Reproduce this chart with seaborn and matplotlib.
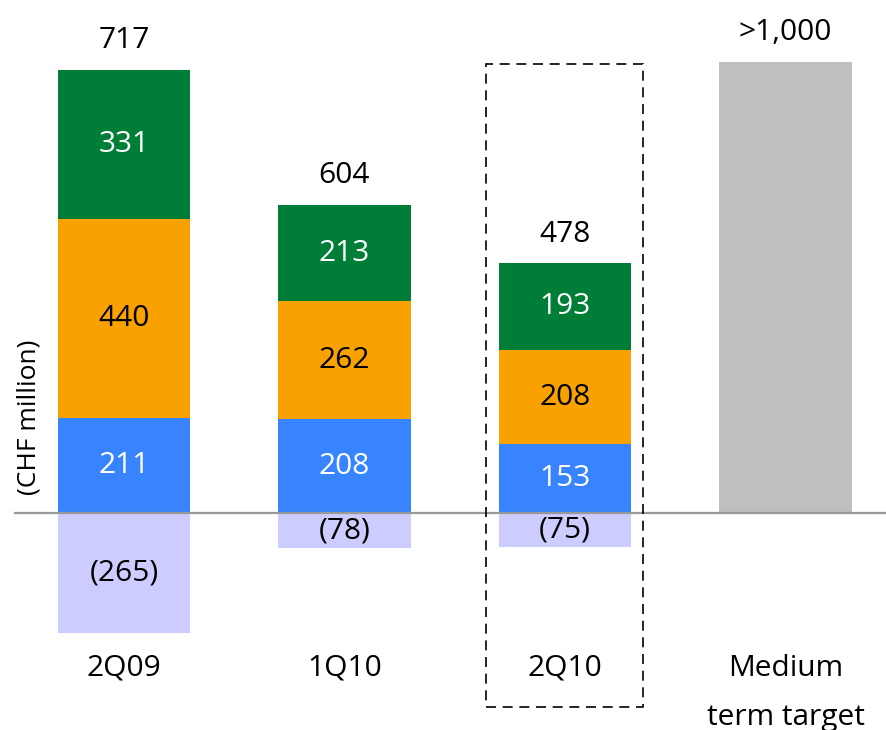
import matplotlib
matplotlib.use('Agg')
import matplotlib.pyplot as plt
from matplotlib.patches import Rectangle
import seaborn as sns
import numpy as np

# ---- data (CHF million) ----
periods = ['2Q09', '1Q10', '2Q10', 'Medium\nterm target']
blue_vals = [211, 208, 153, 0]
orange_vals = [440, 262, 208, 0]
green_vals = [331, 213, 193, 0]
neg_vals = [-265, -78, -75, 0]
target_vals = [0, 0, 0, 1000]
total_labels = ['717', '604', '478', '>1,000']

plt.rcParams['font.family'] = ['Open Sans', 'DejaVu Sans']

c_blue = '#3884FF'
c_orange = '#F9A100'
c_green = '#007D36'
c_neg = '#CCCCFF'
c_target = '#BFBFBF'

fig = plt.figure(figsize=(8.86, 7.30), dpi=100)
ax = fig.add_axes([0, 0, 1, 1])

blue = np.array(blue_vals)
orange = np.array(orange_vals)
green = np.array(green_vals)
neg = np.array(neg_vals)
target = np.array(target_vals)

layers = [
    (blue, np.zeros(4), c_blue, 'white'),
    (orange, blue, c_orange, 'black'),
    (green, blue + orange, c_green, 'white'),
    (neg, np.zeros(4), c_neg, 'black'),
    (target, np.zeros(4), c_target, 'black'),
]

bar_w = 0.6
for vals, bottom, col, _ in layers:
    sns.barplot(x=periods, y=vals, bottom=bottom, color=col, saturation=1,
                width=bar_w, errorbar=None, linewidth=0, ax=ax)

fs = 21.5

# segment labels
for vals, bottom, col, tcol in layers[:4]:
    for i, (v, b) in enumerate(zip(vals, bottom)):
        if v == 0:
            continue
        txt = f'({abs(v)})' if v < 0 else f'{v}'
        ax.text(i, b + v / 2, txt, ha='center', va='center', color=tcol, fontsize=fs)

# totals above the bars
tops = blue + orange + green + target
for i, (t, lab) in enumerate(zip(tops, total_labels)):
    ax.annotate(lab, (i, t), xytext=(0, 21), textcoords='offset points',
                ha='center', va='center', fontsize=fs, color='black')

# category labels under the chart
for i, lab in enumerate(periods):
    ax.text(i, -312, lab, ha='center', va='top', fontsize=fs, linespacing=1.93)

# zero line
ax.axhline(0, xmin=0.017, xmax=1, color='#999999', lw=1.6, zorder=5)

# dashed highlight around the latest quarter
hl = 2
ax.add_patch(Rectangle((hl - 0.356, -430), 0.712, 1426, fill=False,
                       edgecolor='black', lw=1.2, linestyle=(0, (6, 4)), zorder=6))

ax.text(-0.43, 213, '(CHF million)', rotation=90, ha='center', va='center', fontsize=19)

ax.set_xlim(-0.562, 3.456)
ax.set_ylim(-481, 1137.5)
ax.axis('off')

fig.savefig('out.png', dpi=100)
